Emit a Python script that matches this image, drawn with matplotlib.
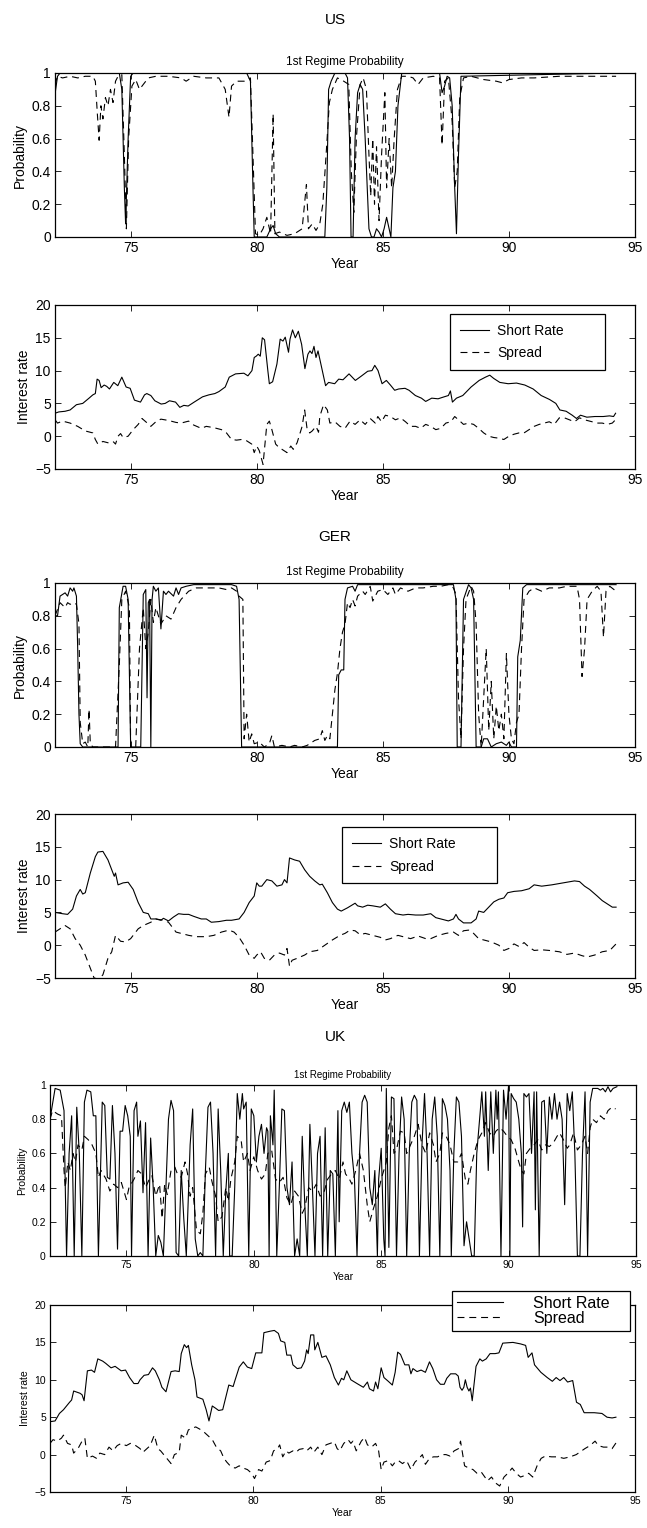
import matplotlib
matplotlib.use("Agg")
import matplotlib.pyplot as plt
from matplotlib.ticker import FuncFormatter

plt.rcParams["font.family"] = ["Liberation Sans", "DejaVu Sans"]
plt.rcParams["lines.scale_dashes"] = False

# ---- data: (year, value) pairs ----
us_prob_solid = [
    (72.0, 0.87), (72.1, 0.98), (72.2, 1.0), (74.55, 1.0), (74.65, 0.9), (74.75, 0.3), (74.8, 0.08),
    (74.9, 0.6), (75.0, 0.98), (75.1, 1.0), (79.6, 1.0), (79.75, 0.95), (79.85, 0.3), (79.9, 0.0),
    (80.4, 0.0), (80.55, 0.05), (80.65, 0.07), (80.75, 0.02), (80.9, 0.0), (82.7, 0.0), (82.78, 0.3),
    (82.85, 0.9), (82.95, 0.95), (83.1, 1.0), (83.5, 1.0), (83.6, 0.97), (83.68, 0.6), (83.74, 0.0),
    (83.82, 0.0), (83.9, 0.6), (84.0, 0.88), (84.1, 0.93), (84.2, 0.9), (84.3, 0.6), (84.45, 0.05),
    (84.55, 0.0), (84.65, 0.0), (84.75, 0.05), (84.85, 0.03), (84.95, 0.0), (85.05, 0.05), (85.15, 0.12),
    (85.25, 0.05), (85.32, 0.0), (85.4, 0.3), (85.5, 0.4), (85.6, 0.8), (85.75, 1.0), (87.25, 1.0),
    (87.35, 0.88), (87.45, 0.92), (87.55, 0.98), (87.65, 0.97), (87.75, 0.8), (87.85, 0.3), (87.92, 0.02),
    (88.0, 0.5), (88.1, 0.98), (94.25, 1.0),
]
us_prob_dashed = [
    (72.0, 0.93), (72.1, 0.98), (72.3, 0.97), (72.6, 0.98), (72.9, 0.97), (73.2, 0.98), (73.5, 0.98),
    (73.6, 0.95), (73.68, 0.75), (73.75, 0.59), (73.82, 0.8), (73.9, 0.72), (74.0, 0.85), (74.1, 0.8),
    (74.2, 0.9), (74.3, 0.82), (74.4, 0.95), (74.5, 0.98), (74.65, 0.99), (74.75, 0.5), (74.83, 0.05),
    (74.92, 0.6), (75.05, 0.92), (75.2, 0.96), (75.35, 0.9), (75.5, 0.93), (75.7, 0.97), (76.0, 0.98),
    (76.5, 0.98), (77.0, 0.97), (77.2, 0.95), (77.5, 0.98), (78.0, 0.97), (78.5, 0.97), (78.75, 0.9),
    (78.9, 0.73), (79.0, 0.92), (79.2, 0.95), (79.5, 0.95), (79.75, 0.97), (79.85, 0.5), (79.95, 0.02),
    (80.1, 0.01), (80.25, 0.05), (80.4, 0.12), (80.55, 0.02), (80.65, 0.75), (80.72, 0.02), (80.9, 0.03),
    (81.2, 0.01), (81.5, 0.02), (81.8, 0.05), (81.97, 0.32), (82.05, 0.05), (82.2, 0.08), (82.35, 0.04),
    (82.5, 0.08), (82.62, 0.2), (82.75, 0.5), (82.88, 0.82), (83.0, 0.9), (83.2, 0.97), (83.45, 0.95),
    (83.65, 0.93), (83.75, 0.4), (83.85, 0.15), (83.95, 0.6), (84.1, 0.93), (84.22, 0.97), (84.35, 0.9),
    (84.45, 0.5), (84.52, 0.25), (84.6, 0.6), (84.67, 0.2), (84.75, 0.55), (84.85, 0.1), (84.95, 0.5),
    (85.08, 0.88), (85.15, 0.3), (85.25, 0.6), (85.35, 0.3), (85.45, 0.6), (85.58, 0.9), (85.75, 0.98),
    (86.0, 0.98), (86.2, 0.97), (86.4, 0.93), (86.6, 0.97), (87.0, 0.98), (87.25, 0.97), (87.35, 0.56),
    (87.45, 0.95), (87.6, 0.97), (87.75, 0.7), (87.85, 0.3), (87.95, 0.4), (88.05, 0.85), (88.2, 0.97),
    (88.5, 0.98), (89.0, 0.96), (89.5, 0.95), (89.75, 0.94), (90.0, 0.96), (90.5, 0.97), (91.0, 0.97),
    (92.0, 0.98), (93.0, 0.98), (94.0, 0.98), (94.25, 0.98),
]
us_short = [
    (72.0, 3.5), (72.15, 3.7), (72.4, 3.8), (72.6, 4.0), (72.85, 4.8), (73.1, 5.0), (73.35, 5.8), (73.5, 6.3),
    (73.6, 6.5), (73.67, 8.7), (73.75, 8.5), (73.83, 7.4), (73.95, 7.8), (74.05, 7.6), (74.16, 7.2), (74.33, 8.2),
    (74.49, 7.7), (74.65, 9.0), (74.82, 7.5), (74.98, 7.3), (75.15, 5.5), (75.39, 5.2), (75.55, 6.3), (75.64, 6.5),
    (75.8, 6.2), (75.96, 5.4), (76.21, 4.9), (76.37, 5.0), (76.54, 5.4), (76.78, 5.2), (76.95, 4.4), (77.11, 4.7),
    (77.28, 4.6), (77.52, 5.2), (77.85, 6.0), (78.1, 6.3), (78.34, 6.5), (78.5, 6.8), (78.75, 7.5), (78.91, 9.0),
    (79.16, 9.5), (79.49, 9.6), (79.65, 9.2), (79.81, 10.0), (79.9, 12.0), (79.98, 12.2), (80.06, 12.5),
    (80.14, 12.2), (80.22, 15.0), (80.31, 14.7), (80.44, 10.0), (80.5, 8.0), (80.63, 8.3), (80.8, 11.0),
    (80.93, 14.8), (81.04, 14.5), (81.13, 15.1), (81.26, 12.8), (81.32, 14.8), (81.42, 16.2), (81.53, 15.0),
    (81.65, 16.0), (81.78, 14.0), (81.91, 10.3), (82.03, 12.5), (82.11, 13.0), (82.19, 12.6), (82.27, 13.7),
    (82.35, 12.0), (82.43, 13.0), (82.6, 10.0), (82.73, 7.7), (82.85, 8.2), (83.09, 8.0), (83.25, 8.7),
    (83.42, 8.6), (83.66, 9.5), (83.91, 8.5), (84.16, 9.2), (84.4, 9.9), (84.57, 10.0), (84.68, 10.8),
    (84.81, 10.0), (84.97, 8.0), (85.14, 8.5), (85.3, 7.8), (85.47, 7.0), (85.63, 7.2), (85.88, 7.3),
    (86.04, 7.0), (86.29, 6.2), (86.53, 5.8), (86.7, 5.3), (86.94, 5.8), (87.19, 5.7), (87.43, 6.0),
    (87.6, 6.2), (87.68, 6.9), (87.76, 5.2), (87.92, 5.8), (88.17, 6.2), (88.5, 7.5), (88.82, 8.5),
    (89.07, 9.0), (89.24, 9.3), (89.4, 8.8), (89.64, 8.2), (89.97, 8.0), (90.3, 8.1), (90.63, 7.8),
    (90.96, 7.2), (91.28, 6.2), (91.61, 5.6), (91.86, 5.0), (92.02, 4.0), (92.27, 3.8), (92.51, 3.2),
    (92.68, 2.7), (92.84, 3.2), (93.09, 2.9), (93.41, 3.0), (93.74, 3.0), (93.99, 3.1), (94.15, 3.0),
    (94.23, 3.5),
]
us_spread = [
    (72.0, 2.5), (72.1, 2.0), (72.3, 2.3), (72.6, 2.0), (72.9, 1.5), (73.2, 0.8), (73.5, 0.5), (73.6, -0.5),
    (73.7, -1.2), (73.9, -0.8), (74.1, -1.0), (74.3, -0.8), (74.4, -1.2), (74.5, 0.0), (74.6, 0.4), (74.7, -0.2),
    (74.9, 0.0), (75.1, 1.0), (75.3, 1.8), (75.45, 2.7), (75.6, 2.2), (75.8, 1.5), (76.0, 2.2), (76.2, 2.6),
    (76.5, 2.4), (76.8, 2.1), (77.0, 2.0), (77.3, 2.3), (77.5, 1.7), (77.8, 1.2), (78.0, 1.5), (78.3, 1.3),
    (78.6, 1.0), (78.8, 0.5), (79.0, -0.5), (79.2, -0.6), (79.4, -0.5), (79.6, -0.7), (79.8, -1.2), (79.9, -2.5),
    (80.0, -1.5), (80.1, -2.2), (80.25, -4.3), (80.4, 1.8), (80.5, 2.3), (80.6, 1.0), (80.75, -1.2), (80.9, -1.8),
    (81.0, -2.0), (81.2, -2.5), (81.35, -1.5), (81.45, -2.0), (81.6, -1.0), (81.8, 1.5), (81.9, 4.0), (82.0, 1.0),
    (82.1, 0.5), (82.2, 0.8), (82.35, 1.5), (82.45, 0.6), (82.5, 3.0), (82.65, 4.8), (82.8, 4.0), (82.9, 2.0),
    (83.1, 2.2), (83.3, 1.5), (83.5, 1.2), (83.7, 2.3), (83.9, 1.8), (84.1, 2.5), (84.3, 1.8), (84.5, 2.7),
    (84.7, 2.0), (84.8, 3.0), (84.95, 2.2), (85.1, 3.2), (85.3, 3.0), (85.5, 2.5), (85.7, 2.8), (85.9, 2.2),
    (86.1, 1.5), (86.3, 1.5), (86.5, 1.2), (86.7, 1.8), (86.9, 1.5), (87.1, 1.0), (87.3, 1.2), (87.5, 2.0),
    (87.7, 2.2), (87.85, 3.0), (88.0, 2.5), (88.2, 1.8), (88.4, 2.0), (88.6, 1.8), (88.8, 1.2), (89.0, 0.5),
    (89.2, 0.0), (89.4, -0.2), (89.6, -0.3), (89.8, -0.5), (90.0, 0.0), (90.2, 0.3), (90.4, 0.5), (90.6, 0.5),
    (90.8, 1.0), (91.0, 1.5), (91.2, 1.8), (91.4, 2.0), (91.6, 2.2), (91.8, 1.8), (92.0, 2.8), (92.2, 2.8),
    (92.4, 2.5), (92.6, 2.2), (92.8, 2.8), (93.0, 2.5), (93.3, 2.2), (93.5, 2.0), (93.7, 2.0), (93.9, 1.8),
    (94.1, 2.0), (94.25, 2.6),
]

ger_prob_solid = [
    (72.0, 0.80), (72.1, 0.80), (72.2, 0.92), (72.4, 0.94), (72.5, 0.92), (72.6, 0.97), (72.7, 0.95),
    (72.75, 0.97), (72.85, 0.92), (72.9, 0.6), (72.95, 0.2), (73.0, 0.02), (73.1, 0.0), (74.5, 0.0),
    (74.55, 0.85), (74.7, 0.98), (74.8, 0.98), (74.9, 0.9), (75.0, 0.0), (75.4, 0.0), (75.5, 0.93),
    (75.6, 0.96), (75.65, 0.3), (75.7, 0.88), (75.75, 0.9), (75.8, 0.0), (75.85, 0.9), (75.9, 0.98),
    (76.0, 0.95), (76.1, 0.97), (76.2, 0.72), (76.3, 0.95), (76.4, 0.93), (76.5, 0.95), (76.7, 0.92),
    (76.8, 0.97), (76.9, 0.93), (77.0, 0.97), (77.2, 0.98), (77.5, 0.99), (79.0, 0.99), (79.2, 0.98),
    (79.3, 0.9), (79.4, 0.0), (83.2, 0.0), (83.25, 0.44), (83.35, 0.47), (83.45, 0.47), (83.5, 0.9),
    (83.6, 0.97), (83.8, 0.98), (83.9, 0.95), (84.0, 0.99), (87.8, 0.99), (87.9, 0.9), (87.95, 0.0),
    (88.1, 0.0), (88.2, 0.9), (88.4, 0.99), (88.5, 0.97), (88.6, 0.9), (88.7, 0.0), (88.9, 0.0),
    (89.0, 0.05), (89.15, 0.05), (89.3, 0.0), (89.5, 0.02), (89.7, 0.03), (89.9, 0.01), (90.0, 0.03),
    (90.1, 0.0), (90.3, 0.0), (90.35, 0.55), (90.45, 0.65), (90.55, 0.97), (90.7, 0.99), (94.25, 0.99),
]
ger_prob_dashed = [
    (72.0, 0.80), (72.2, 0.88), (72.4, 0.85), (72.5, 0.88), (72.6, 0.87), (72.75, 0.88), (72.85, 0.87),
    (72.95, 0.75), (73.0, 0.15), (73.1, 0.02), (73.2, 0.03), (73.3, 0.0), (73.35, 0.23), (73.4, 0.02),
    (73.5, 0.0), (74.4, 0.0), (74.55, 0.5), (74.65, 0.9), (74.8, 0.95), (74.95, 0.85), (75.0, 0.0),
    (75.2, 0.0), (75.35, 0.6), (75.5, 0.85), (75.6, 0.6), (75.7, 0.7), (75.8, 0.9), (75.9, 0.76),
    (76.0, 0.85), (76.2, 0.75), (76.4, 0.8), (76.6, 0.78), (76.8, 0.85), (77.0, 0.9), (77.3, 0.95),
    (77.6, 0.97), (78.5, 0.97), (78.8, 0.96), (79.0, 0.97), (79.2, 0.95), (79.3, 0.92), (79.45, 0.9),
    (79.5, 0.05), (79.6, 0.2), (79.7, 0.03), (79.8, 0.08), (79.9, 0.02), (80.1, 0.03), (80.3, 0.0),
    (80.5, 0.02), (80.6, 0.07), (80.7, 0.0), (81.0, 0.01), (81.3, 0.0), (81.5, 0.01), (81.8, 0.0),
    (82.0, 0.01), (82.3, 0.04), (82.5, 0.05), (82.6, 0.1), (82.7, 0.04), (82.8, 0.07), (82.9, 0.05),
    (83.0, 0.2), (83.1, 0.35), (83.2, 0.45), (83.3, 0.6), (83.4, 0.7), (83.5, 0.75), (83.6, 0.88),
    (83.7, 0.85), (83.8, 0.9), (83.9, 0.86), (84.0, 0.92), (84.2, 0.95), (84.3, 0.93), (84.5, 0.98),
    (84.6, 0.89), (84.8, 0.95), (85.0, 0.96), (85.2, 0.93), (85.4, 0.97), (85.5, 0.93), (85.7, 0.97),
    (86.0, 0.95), (86.3, 0.97), (86.6, 0.97), (87.0, 0.98), (87.3, 0.98), (87.6, 0.99), (87.8, 0.97),
    (87.9, 0.93), (88.0, 0.3), (88.1, 0.05), (88.2, 0.6), (88.3, 0.9), (88.5, 0.98), (88.6, 0.95),
    (88.7, 0.75), (88.8, 0.2), (88.9, 0.0), (89.0, 0.3), (89.1, 0.6), (89.2, 0.1), (89.3, 0.4),
    (89.4, 0.05), (89.5, 0.25), (89.6, 0.1), (89.7, 0.2), (89.8, 0.05), (89.9, 0.57), (90.0, 0.2),
    (90.1, 0.05), (90.2, 0.02), (90.3, 0.15), (90.4, 0.2), (90.5, 0.6), (90.6, 0.9), (90.8, 0.95),
    (91.0, 0.97), (91.3, 0.95), (91.6, 0.97), (92.0, 0.97), (92.3, 0.98), (92.7, 0.98), (92.8, 0.9),
    (92.9, 0.43), (93.0, 0.6), (93.1, 0.9), (93.3, 0.95), (93.5, 0.98), (93.65, 0.95), (93.75, 0.67),
    (93.85, 0.95), (94.0, 0.98), (94.25, 0.95),
]
ger_short = [
    (72.0, 5.0), (72.3, 4.8), (72.5, 4.7), (72.7, 5.5), (72.85, 7.5), (73.0, 8.5), (73.1, 7.8), (73.2, 8.0),
    (73.4, 11.0), (73.6, 13.5), (73.7, 14.2), (73.9, 14.3), (74.1, 13.0), (74.25, 11.5), (74.35, 10.5),
    (74.4, 11.0), (74.5, 9.2), (74.7, 9.5), (74.9, 9.6), (75.1, 8.5), (75.3, 6.5), (75.5, 5.0), (75.7, 4.8),
    (75.8, 4.0), (76.0, 4.0), (76.2, 3.8), (76.3, 4.1), (76.5, 3.7), (76.7, 4.3), (76.9, 4.8), (77.1, 4.7),
    (77.3, 4.7), (77.5, 4.4), (77.8, 4.0), (78.0, 4.0), (78.2, 3.5), (78.5, 3.6), (78.8, 3.8), (79.0, 3.8),
    (79.3, 4.0), (79.5, 5.0), (79.7, 6.5), (79.9, 7.5), (80.0, 9.5), (80.1, 9.0), (80.2, 9.0), (80.4, 10.0),
    (80.6, 9.8), (80.8, 9.0), (81.0, 9.2), (81.1, 10.0), (81.2, 9.5), (81.3, 13.3), (81.5, 13.0),
    (81.7, 12.8), (81.9, 11.5), (82.1, 10.5), (82.3, 9.8), (82.5, 9.2), (82.6, 9.3), (82.8, 8.0),
    (83.0, 6.5), (83.2, 5.5), (83.35, 5.2), (83.6, 5.7), (83.9, 6.4), (84.0, 6.0), (84.2, 5.8), (84.4, 6.1),
    (84.6, 6.0), (84.9, 5.8), (85.1, 6.3), (85.3, 5.5), (85.5, 4.8), (85.8, 4.6), (86.0, 4.7), (86.3, 4.6),
    (86.6, 4.6), (86.9, 4.8), (87.1, 4.2), (87.3, 4.0), (87.6, 3.7), (87.8, 4.0), (87.9, 4.7), (88.0, 4.0),
    (88.2, 3.4), (88.5, 3.4), (88.7, 4.0), (88.8, 5.2), (89.0, 5.0), (89.2, 5.8), (89.4, 6.6), (89.6, 7.0),
    (89.8, 7.2), (89.95, 8.0), (90.2, 8.2), (90.5, 8.3), (90.8, 8.6), (91.0, 9.2), (91.3, 9.0), (91.7, 9.2),
    (92.0, 9.4), (92.3, 9.6), (92.6, 9.8), (92.8, 9.7), (93.0, 9.0), (93.2, 8.5), (93.5, 7.5), (93.7, 6.8),
    (93.9, 6.3), (94.1, 5.8), (94.25, 5.8),
]
ger_spread = [
    (72.0, 2.0), (72.2, 2.5), (72.4, 3.0), (72.6, 2.5), (72.8, 1.0), (73.0, 0.0), (73.2, -1.5), (73.4, -3.5),
    (73.55, -5.0), (73.75, -5.2), (73.9, -4.5), (74.1, -2.0), (74.25, -1.0), (74.4, 1.5), (74.6, 0.6),
    (74.8, 0.5), (75.0, 1.0), (75.3, 2.5), (75.5, 3.0), (75.8, 3.5), (76.0, 4.0), (76.3, 3.8), (76.5, 3.5),
    (76.8, 2.0), (77.0, 1.8), (77.3, 1.5), (77.6, 1.3), (78.0, 1.3), (78.3, 1.5), (78.6, 2.0), (78.9, 2.3),
    (79.1, 2.0), (79.3, 1.2), (79.5, 0.0), (79.7, -1.5), (79.9, -2.0), (80.0, -1.5), (80.15, -1.0),
    (80.3, -2.0), (80.5, -2.3), (80.7, -1.5), (80.9, -1.2), (81.1, -1.5), (81.2, -0.5), (81.3, -3.2),
    (81.4, -2.3), (81.6, -2.0), (81.9, -1.5), (82.1, -1.0), (82.4, -0.8), (82.7, 0.0), (83.0, 0.8),
    (83.3, 1.5), (83.5, 1.8), (83.7, 2.3), (83.9, 2.2), (84.1, 1.6), (84.3, 1.8), (84.6, 1.5), (84.9, 1.2),
    (85.1, 0.8), (85.3, 1.0), (85.6, 1.5), (85.9, 1.2), (86.1, 1.0), (86.4, 1.4), (86.7, 1.0), (86.9, 1.0),
    (87.2, 1.5), (87.5, 1.8), (87.8, 2.0), (88.0, 1.5), (88.2, 2.2), (88.4, 2.3), (88.6, 1.8), (88.8, 1.0),
    (89.0, 0.8), (89.3, 0.5), (89.6, 0.0), (89.8, -0.8), (90.0, -0.5), (90.2, 0.2), (90.4, -0.2),
    (90.6, 0.4), (90.8, -0.3), (91.0, -0.8), (91.3, -0.7), (91.6, -0.8), (92.0, -1.0), (92.3, -1.4),
    (92.6, -1.2), (92.9, -1.6), (93.1, -1.8), (93.4, -1.5), (93.7, -1.0), (94.0, -0.8), (94.25, 0.2),
]

uk_prob_solid = [
    (72.0, 0.8), (72.2, 0.98), (72.4, 0.97), (72.55, 0.85), (72.6, 0.4), (72.65, 0.0), (72.75, 0.6),
    (72.85, 0.82), (72.95, 0.0), (73.05, 0.87), (73.15, 0.6), (73.25, 0.0), (73.35, 0.9), (73.45, 0.97),
    (73.6, 0.96), (73.7, 0.82), (73.8, 0.82), (73.9, 0.0), (74.0, 0.6), (74.05, 0.9), (74.15, 0.88),
    (74.25, 0.46), (74.35, 0.45), (74.45, 0.88), (74.55, 0.6), (74.65, 0.04), (74.75, 0.73), (74.85, 0.73),
    (74.95, 0.88), (75.05, 0.82), (75.15, 0.7), (75.2, 0.0), (75.3, 0.85), (75.4, 0.9), (75.45, 0.7),
    (75.55, 0.79), (75.65, 0.37), (75.75, 0.78), (75.85, 0.0), (75.95, 0.69), (76.05, 0.4), (76.15, 0.0),
    (76.25, 0.12), (76.35, 0.08), (76.45, 0.0), (76.55, 0.4), (76.65, 0.8), (76.75, 0.91), (76.85, 0.85),
    (76.95, 0.02), (77.05, 0.0), (77.15, 0.5), (77.25, 0.22), (77.35, 0.0), (77.5, 0.65), (77.6, 0.86),
    (77.7, 0.1), (77.8, 0.0), (77.9, 0.02), (78.0, 0.0), (78.1, 0.5), (78.2, 0.87), (78.3, 0.9),
    (78.4, 0.6), (78.5, 0.0), (78.6, 0.86), (78.7, 0.5), (78.8, 0.0), (78.9, 0.38), (79.0, 0.6),
    (79.05, 0.0), (79.15, 0.0), (79.25, 0.4), (79.35, 0.95), (79.45, 0.8), (79.55, 0.95), (79.6, 0.86),
    (79.7, 0.9), (79.8, 0.0), (79.9, 0.86), (80.0, 0.82), (80.1, 0.55), (80.2, 0.7), (80.3, 0.77),
    (80.4, 0.6), (80.5, 0.75), (80.55, 0.73), (80.6, 0.0), (80.65, 0.82), (80.75, 0.65), (80.8, 0.97),
    (80.9, 0.0), (81.0, 0.4), (81.1, 0.86), (81.2, 0.85), (81.3, 0.4), (81.4, 0.3), (81.5, 0.55),
    (81.6, 0.0), (81.7, 0.1), (81.8, 0.0), (81.9, 0.7), (82.0, 0.3), (82.1, 0.0), (82.2, 0.77),
    (82.3, 0.4), (82.4, 0.0), (82.5, 0.6), (82.6, 0.7), (82.7, 0.0), (82.8, 0.75), (82.9, 0.0),
    (83.0, 0.5), (83.1, 0.48), (83.2, 0.0), (83.3, 0.85), (83.35, 0.2), (83.45, 0.85), (83.55, 0.9),
    (83.65, 0.84), (83.75, 0.9), (83.85, 0.6), (83.95, 0.45), (84.05, 0.0), (84.15, 0.6), (84.25, 0.9),
    (84.35, 0.94), (84.45, 0.9), (84.55, 0.4), (84.65, 0.3), (84.75, 0.5), (84.85, 0.0), (84.9, 0.45),
    (85.0, 0.63), (85.1, 0.1), (85.15, 0.0), (85.2, 0.98), (85.3, 0.05), (85.4, 0.93), (85.5, 0.92),
    (85.6, 0.0), (85.7, 0.6), (85.8, 0.93), (85.9, 0.8), (86.0, 0.0), (86.1, 0.6), (86.2, 0.9),
    (86.3, 0.94), (86.4, 0.91), (86.5, 0.0), (86.6, 0.65), (86.7, 0.95), (86.8, 0.6), (86.9, 0.0),
    (87.0, 0.8), (87.1, 0.93), (87.2, 0.7), (87.3, 0.0), (87.4, 0.92), (87.5, 0.88), (87.6, 0.8),
    (87.7, 0.5), (87.75, 0.0), (87.85, 0.6), (87.95, 0.93), (88.05, 0.9), (88.15, 0.7), (88.25, 0.06),
    (88.35, 0.2), (88.45, 0.1), (88.55, 0.0), (88.65, 0.0), (88.75, 0.6), (88.85, 0.78), (88.95, 0.96),
    (89.05, 0.7), (89.1, 0.96), (89.2, 0.5), (89.3, 0.96), (89.4, 0.6), (89.5, 0.97), (89.55, 0.8),
    (89.6, 0.96), (89.7, 0.0), (89.8, 0.97), (89.9, 0.8), (90.0, 1.0), (90.05, 0.0), (90.1, 0.95),
    (90.2, 0.92), (90.3, 0.9), (90.4, 0.8), (90.5, 0.6), (90.55, 0.17), (90.6, 0.95), (90.7, 0.93),
    (90.8, 0.95), (90.9, 0.6), (91.0, 0.96), (91.05, 0.27), (91.1, 0.96), (91.2, 0.0), (91.3, 0.9),
    (91.4, 0.91), (91.5, 0.6), (91.6, 0.93), (91.7, 0.8), (91.8, 0.95), (91.9, 0.8), (92.0, 0.9),
    (92.1, 0.8), (92.2, 0.3), (92.3, 0.95), (92.4, 0.85), (92.5, 0.96), (92.6, 0.6), (92.7, 0.0),
    (92.8, 0.0), (92.9, 0.6), (93.0, 0.96), (93.05, 0.55), (93.1, 0.0), (93.2, 0.9), (93.3, 0.98),
    (93.5, 0.98), (93.6, 0.97), (93.7, 0.98), (93.8, 0.96), (93.9, 0.99), (94.0, 0.96), (94.1, 0.98),
    (94.25, 0.99),
]
uk_prob_dashed = [
    (72.0, 0.8), (72.1, 0.85), (72.2, 0.84), (72.3, 0.83), (72.45, 0.82), (72.55, 0.5), (72.6, 0.4),
    (72.7, 0.55), (72.8, 0.5), (72.9, 0.6), (73.0, 0.55), (73.1, 0.65), (73.25, 0.62), (73.35, 0.7),
    (73.5, 0.68), (73.65, 0.65), (73.8, 0.6), (73.9, 0.46), (74.0, 0.5), (74.2, 0.45), (74.35, 0.38),
    (74.5, 0.42), (74.65, 0.4), (74.8, 0.43), (75.0, 0.33), (75.1, 0.4), (75.3, 0.45), (75.45, 0.5),
    (75.6, 0.48), (75.75, 0.4), (75.9, 0.45), (76.0, 0.47), (76.15, 0.35), (76.3, 0.42), (76.4, 0.22),
    (76.5, 0.42), (76.6, 0.36), (76.75, 0.5), (76.9, 0.52), (77.0, 0.48), (77.15, 0.46), (77.3, 0.55),
    (77.4, 0.48), (77.5, 0.35), (77.6, 0.4), (77.75, 0.15), (77.9, 0.13), (78.0, 0.25), (78.1, 0.48),
    (78.25, 0.52), (78.35, 0.44), (78.5, 0.35), (78.6, 0.2), (78.75, 0.23), (78.9, 0.4), (79.0, 0.32),
    (79.1, 0.45), (79.25, 0.55), (79.35, 0.7), (79.5, 0.68), (79.6, 0.55), (79.75, 0.6), (79.85, 0.5),
    (80.0, 0.58), (80.15, 0.5), (80.3, 0.45), (80.45, 0.48), (80.55, 0.6), (80.7, 0.62), (80.85, 0.45),
    (81.0, 0.43), (81.15, 0.46), (81.3, 0.34), (81.45, 0.3), (81.6, 0.38), (81.75, 0.35), (81.9, 0.25),
    (82.0, 0.28), (82.15, 0.4), (82.3, 0.38), (82.45, 0.42), (82.6, 0.35), (82.75, 0.37), (82.9, 0.45),
    (83.05, 0.48), (83.2, 0.5), (83.35, 0.45), (83.5, 0.55), (83.6, 0.48), (83.75, 0.45), (83.85, 0.42),
    (84.0, 0.5), (84.15, 0.6), (84.3, 0.5), (84.45, 0.3), (84.55, 0.2), (84.7, 0.28), (84.85, 0.35),
    (85.0, 0.45), (85.1, 0.5), (85.2, 0.55), (85.3, 0.75), (85.4, 0.82), (85.5, 0.6), (85.6, 0.62),
    (85.75, 0.73), (85.9, 0.72), (86.0, 0.6), (86.15, 0.65), (86.3, 0.7), (86.45, 0.77), (86.6, 0.65),
    (86.75, 0.6), (86.9, 0.72), (87.05, 0.65), (87.15, 0.55), (87.3, 0.6), (87.4, 0.72), (87.55, 0.7),
    (87.7, 0.65), (87.85, 0.55), (88.0, 0.55), (88.15, 0.6), (88.3, 0.45), (88.4, 0.42), (88.5, 0.5),
    (88.65, 0.6), (88.8, 0.68), (88.95, 0.72), (89.1, 0.78), (89.25, 0.72), (89.4, 0.7), (89.5, 0.73),
    (89.65, 0.75), (89.8, 0.73), (89.95, 0.7), (90.1, 0.68), (90.25, 0.63), (90.4, 0.55), (90.5, 0.5),
    (90.6, 0.48), (90.7, 0.6), (90.85, 0.63), (91.0, 0.65), (91.15, 0.68), (91.3, 0.62), (91.45, 0.65),
    (91.6, 0.64), (91.75, 0.66), (91.9, 0.7), (92.0, 0.72), (92.15, 0.68), (92.3, 0.63), (92.4, 0.65),
    (92.55, 0.72), (92.7, 0.62), (92.85, 0.65), (93.0, 0.7), (93.1, 0.6), (93.2, 0.75), (93.3, 0.8),
    (93.45, 0.78), (93.6, 0.82), (93.75, 0.8), (93.9, 0.85), (94.05, 0.87), (94.2, 0.86),
]
uk_short = [
    (72.0, 4.4), (72.2, 4.5), (72.37, 5.5), (72.53, 6.0), (72.77, 7.0), (72.85, 7.3), (72.93, 8.5),
    (73.18, 8.2), (73.26, 8.0), (73.34, 7.2), (73.47, 11.2), (73.63, 11.3), (73.75, 11.0), (73.88, 12.8),
    (74.07, 12.5), (74.19, 12.2), (74.4, 11.6), (74.56, 11.8), (74.8, 11.2), (74.97, 11.3), (75.13, 10.3),
    (75.3, 9.5), (75.46, 9.5), (75.54, 10.0), (75.7, 10.6), (75.87, 10.7), (76.03, 11.6), (76.14, 11.2),
    (76.3, 10.0), (76.4, 9.0), (76.56, 8.4), (76.76, 11.1), (76.92, 11.2), (77.08, 11.1), (77.16, 13.5),
    (77.28, 14.7), (77.37, 14.3), (77.44, 14.6), (77.57, 12.0), (77.7, 10.0), (77.78, 7.7), (77.93, 7.5),
    (78.01, 7.4), (78.14, 6.0), (78.25, 4.5), (78.38, 6.5), (78.51, 6.2), (78.63, 5.9), (78.79, 6.0),
    (78.9, 7.5), (79.03, 9.3), (79.2, 9.1), (79.28, 10.0), (79.44, 11.7), (79.6, 12.4), (79.76, 11.7),
    (79.93, 11.5), (80.09, 13.6), (80.33, 13.6), (80.41, 16.3), (80.66, 16.5), (80.82, 16.6), (80.98, 16.2),
    (81.07, 15.2), (81.23, 15.0), (81.31, 13.3), (81.47, 13.3), (81.55, 12.0), (81.72, 11.5), (81.88, 11.6),
    (82.01, 12.5), (82.09, 14.0), (82.15, 13.5), (82.25, 16.0), (82.37, 16.0), (82.41, 14.0), (82.53, 15.0),
    (82.69, 13.0), (82.85, 13.2), (83.02, 12.0), (83.18, 10.3), (83.34, 9.3), (83.46, 10.2), (83.55, 10.0),
    (83.67, 11.2), (83.83, 10.0), (84.07, 9.5), (84.32, 9.0), (84.48, 9.7), (84.56, 8.8), (84.72, 8.5),
    (84.8, 9.7), (84.89, 8.8), (85.02, 11.6), (85.13, 10.3), (85.3, 9.8), (85.46, 9.3), (85.57, 11.0),
    (85.67, 13.7), (85.78, 13.4), (85.95, 12.0), (86.11, 12.0), (86.19, 10.8), (86.27, 11.5), (86.43, 11.1),
    (86.59, 11.3), (86.76, 11.0), (86.92, 12.4), (87.05, 11.5), (87.2, 10.0), (87.35, 9.4), (87.5, 9.4),
    (87.6, 10.2), (87.75, 10.8), (87.95, 10.8), (88.05, 10.5), (88.12, 9.0), (88.2, 8.6), (88.27, 9.0),
    (88.33, 10.0), (88.4, 9.0), (88.47, 8.5), (88.53, 8.9), (88.6, 7.2), (88.75, 11.8), (88.9, 12.8),
    (89.0, 12.5), (89.15, 12.8), (89.3, 13.5), (89.5, 13.5), (89.65, 13.6), (89.8, 14.9), (90.2, 15.0),
    (90.5, 14.8), (90.7, 14.6), (90.8, 13.0), (90.95, 13.6), (91.05, 12.0), (91.3, 11.0), (91.55, 10.3),
    (91.75, 9.8), (91.9, 10.3), (92.05, 9.9), (92.2, 10.3), (92.35, 9.7), (92.55, 9.9), (92.7, 7.0),
    (92.85, 6.7), (93.0, 5.6), (93.4, 5.6), (93.7, 5.5), (93.9, 5.0), (94.1, 4.9), (94.25, 5.0),
]
uk_spread = [
    (72.0, 1.5), (72.12, 2.0), (72.28, 1.8), (72.45, 2.2), (72.53, 2.6), (72.69, 1.5), (72.85, 1.3),
    (72.93, 0.2), (73.1, 0.8), (73.26, 1.8), (73.37, 2.2), (73.47, -0.5), (73.67, -0.2), (73.83, -0.5),
    (73.96, 0.2), (74.15, 0.0), (74.32, 1.0), (74.48, 0.5), (74.64, 1.2), (74.8, 1.5), (75.0, 1.2),
    (75.16, 1.5), (75.33, 1.3), (75.54, 0.8), (75.65, 0.3), (75.78, 0.7), (75.94, 1.2), (76.1, 2.6),
    (76.24, 0.8), (76.35, 0.5), (76.59, -0.5), (76.76, -1.2), (76.89, 0.0), (77.08, 0.3), (77.16, 2.6),
    (77.33, 2.2), (77.44, 3.3), (77.57, 3.5), (77.73, 3.7), (77.89, 3.4), (78.06, 3.0), (78.22, 2.5),
    (78.38, 2.0), (78.54, 1.0), (78.71, 0.5), (78.84, -0.5), (78.95, -1.0), (79.11, -1.6), (79.28, -1.8),
    (79.44, -1.5), (79.6, -1.8), (79.76, -2.0), (79.93, -2.5), (80.04, -3.2), (80.2, -2.0), (80.33, -2.2),
    (80.5, -1.0), (80.66, -0.8), (80.79, 0.5), (80.95, 0.8), (81.03, 1.3), (81.15, -0.3), (81.28, 0.5),
    (81.39, 0.2), (81.55, 0.5), (81.67, 0.3), (81.8, 0.7), (81.96, 0.8), (82.09, 0.5), (82.25, 1.0),
    (82.37, 0.3), (82.53, 1.0), (82.69, 0.0), (82.85, 1.3), (83.02, 1.5), (83.18, 1.7), (83.29, 0.8),
    (83.39, 0.5), (83.55, 1.5), (83.72, 2.0), (83.83, 1.5), (83.91, 1.8), (84.04, 0.5), (84.24, 1.8),
    (84.37, 2.3), (84.48, 1.3), (84.64, 1.0), (84.8, 1.5), (84.92, 0.5), (85.02, -2.0), (85.13, -1.0),
    (85.3, -0.8), (85.46, -1.5), (85.57, -1.0), (85.7, -0.8), (85.86, -1.2), (86.02, -0.8), (86.19, -2.0),
    (86.35, -1.0), (86.51, -0.5), (86.64, 0.0), (86.76, -1.3), (86.92, -0.5), (87.08, -0.3), (87.24, -0.3),
    (87.41, 0.0), (87.57, 0.0), (87.73, -0.2), (87.89, 0.5), (88.06, 0.8), (88.14, 1.8), (88.3, -1.5),
    (88.46, -1.8), (88.63, -2.0), (88.79, -2.5), (88.95, -2.3), (89.2, -3.5), (89.36, -3.0), (89.52, -3.8),
    (89.68, -4.2), (89.85, -3.0), (90.0, -2.5), (90.17, -1.8), (90.33, -2.5), (90.5, -3.0), (90.66, -2.8),
    (90.82, -2.5), (90.98, -3.0), (91.15, -1.5), (91.31, -0.5), (91.47, -0.2), (91.72, -0.3), (91.96, -0.3),
    (92.2, -0.5), (92.45, -0.3), (92.69, 0.0), (92.9, 0.5), (93.03, 0.8), (93.23, 1.2), (93.43, 1.8),
    (93.56, 1.2), (93.76, 1.0), (93.97, 1.0), (94.1, 0.8), (94.3, 1.8),
]

year_ticks = [75, 80, 85, 90, 95]
prob_ticks = [0, 0.2, 0.4, 0.6, 0.8, 1]
rate_ticks = [-5, 0, 5, 10, 15, 20]

LW = 0.8
DASH = (0, (5, 3.5))


def xy(pairs):
    return [p[0] for p in pairs], [p[1] for p in pairs]


def style(ax, fs, ylabel, yticks, ylim):
    ax.set_xlim(72, 95)
    ax.set_ylim(*ylim)
    ax.set_xticks(year_ticks)
    ax.set_yticks(yticks)
    ax.yaxis.set_major_formatter(FuncFormatter(lambda v, p: f"{v:g}".replace("-", "\u2212")))
    ax.tick_params(direction="in", top=True, right=True, length=4, width=0.6,
                   labelsize=fs, pad=3)
    for s in ax.spines.values():
        s.set_linewidth(0.9)
    ax.set_xlabel("Year", fontsize=fs, labelpad=1)
    ax.set_ylabel(ylabel, fontsize=fs, labelpad=3)


fig = plt.figure(figsize=(6.47, 15.28), dpi=100)
fig.patch.set_facecolor("white")

W, H = 647.0, 1528.0


def add_axes(left, right, top, bottom):
    return fig.add_axes([left / W, 1 - bottom / H, (right - left) / W, (bottom - top) / H])


panels = [
    ("US", 20, us_prob_solid, us_prob_dashed, us_short, us_spread,
     (55, 635, 73, 237), (55, 635, 305, 469), 10, 8.5, (0.681, 0.945), 11),
    ("GER", 537, ger_prob_solid, ger_prob_dashed, ger_short, ger_spread,
     (55, 635, 583, 747), (55, 635, 814, 978), 10, 8.5, (0.495, 0.918), 11),
]

for name, ty, ps, pd_, sr, sp, box1, box2, fs, tfs, leg_at, cfs in panels:
    fig.text(335 / W, 1 - ty / H, name, ha="center", va="center", fontsize=cfs)
    ax = add_axes(*box1)
    t, v = xy(ps)
    ax.plot(t, v, color="black", lw=LW)
    t, v = xy(pd_)
    ax.plot(t, v, color="black", lw=LW, linestyle=DASH)
    style(ax, fs, "Probability", prob_ticks, (0, 1))
    ax.set_title("1st Regime Probability", fontsize=tfs, pad=6)

    ax2 = add_axes(*box2)
    t, v = xy(sr)
    ax2.plot(t, v, color="black", lw=LW, label="Short Rate")
    t, v = xy(sp)
    ax2.plot(t, v, color="black", lw=LW, linestyle=DASH, label="Spread")
    style(ax2, fs, "Interest rate", rate_ticks, (-5, 20))
    leg = ax2.legend(loc="upper left", bbox_to_anchor=(leg_at[0], leg_at[1], 0.267, 0.0), mode="expand",
                     fontsize=fs, frameon=True, fancybox=False, edgecolor="black", framealpha=1,
                     borderpad=0.7, labelspacing=0.6, handlelength=2.1, handletextpad=0.6,
                     borderaxespad=0)
    leg.get_frame().set_linewidth(0.9)

# UK block (smaller fonts)
fig.text(335 / W, 1 - 1037 / H, "UK", ha="center", va="center", fontsize=11)
ax5 = add_axes(50, 636, 1085, 1256)
t, v = xy(uk_prob_solid)
ax5.plot(t, v, color="black", lw=LW)
t, v = xy(uk_prob_dashed)
ax5.plot(t, v, color="black", lw=LW, linestyle=DASH)
style(ax5, 7.5, "Probability", prob_ticks, (0, 1))
ax5.set_title("1st Regime Probability", fontsize=7, pad=5)

ax6 = add_axes(50, 635, 1305, 1492)
t, v = xy(uk_short)
ax6.plot(t, v, color="black", lw=LW, label="Short Rate")
t, v = xy(uk_spread)
ax6.plot(t, v, color="black", lw=LW, linestyle=DASH, label="Spread")
style(ax6, 7.5, "Interest rate", rate_ticks, (-5, 20))
leg = ax6.legend(loc="upper left", bbox_to_anchor=(0.687, 1.075, 0.304, 0.0), mode="expand",
                 fontsize=11.5, frameon=True, fancybox=False, edgecolor="black", framealpha=1,
                 borderpad=0.3, labelspacing=0.0, handlelength=2.9, handletextpad=1.9,
                 borderaxespad=0)
leg.get_frame().set_linewidth(0.9)

fig.savefig("out.png", dpi=100, facecolor="white")
